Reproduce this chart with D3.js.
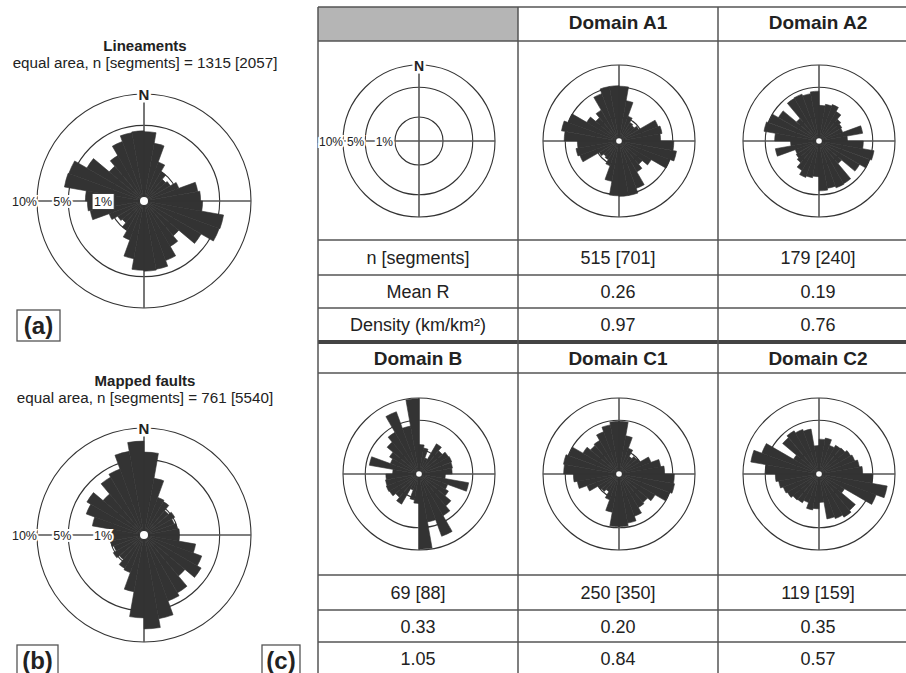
<!DOCTYPE html>
<html><head><meta charset="utf-8">
<script src="https://cdn.jsdelivr.net/npm/d3@7"></script>
<style>body{margin:0;background:#fff}svg{display:block;font-family:"Liberation Sans",Arial,sans-serif}</style>
</head><body><svg id="c" width="906" height="673"></svg>
<script>
// Bin start azimuths (degrees), 10° axial bins mirrored through 180°
const binStarts = d3.range(0, 180, 10);
// Percent per bin (equal-area roses)
const lineaments   = [4.2,3.0,1.5,1.0,0.7,0.8,1.2,2.6,2.8,3.0,5.7,5.6,3.8,1.8,2.4,3.5,4.2,4.3];
const mappedFaults = [6.0,2.9,1.4,1.3,0.9,1.1,0.9,1.0,1.1,1.1,2.4,3.3,3.8,2.5,3.9,4.3,6.3,7.7];
const domainA1 = [5.2,2.9,1.2,0.8,0.7,0.9,3.0,3.3,3.0,5.2,5.9,5.1,2.4,1.6,2.2,4.4,5.3,5.3];
const domainA2 = [2.2,2.4,2.6,2.0,1.4,1.2,1.1,3.4,1.4,3.4,5.4,5.0,3.8,1.5,4.2,4.3,4.0,4.3];
const domainB  = [1.5,1.2,0.5,2.1,1.6,2.0,2.1,2.0,1.9,1.2,4.4,1.6,2.0,3.0,4.0,7.6,4.1,9.8];
const domainC1 = [4.8,2.6,1.3,0.7,0.9,1.0,2.0,3.1,3.6,5.3,5.5,5.0,3.0,2.4,2.6,3.5,4.3,4.8];
const domainC2 = [2.1,2.3,1.6,1.9,2.0,2.3,2.5,2.9,3.3,5.0,8.3,6.4,1.5,3.9,4.3,3.9,3.6,1.4];
const ringPercents = [10, 5, 1];
const ringLabels = ["10%", "5%", "1%"];
// Table text
const rowLabels = ["n [segments]", "Mean R", "Density (km/km²)"];
const topDomains = ["Domain A1", "Domain A2"];
const topN = ["515 [701]", "179 [240]"];
const topMeanR = ["0.26", "0.19"];
const topDensity = ["0.97", "0.76"];
const bottomDomains = ["Domain B", "Domain C1", "Domain C2"];
const bottomN = ["69 [88]", "250 [350]", "119 [159]"];
const bottomMeanR = ["0.33", "0.20", "0.35"];
const bottomDensity = ["1.05", "0.84", "0.57"];

const svg = d3.select("#c");
const INK = "#333", LINE = "#555", TXT = "#222";
const rad = d => d * Math.PI / 180;

function rose(cx, cy, R, values, opt) {
  opt = opt || {};
  const g = svg.append("g").attr("transform", `translate(${cx},${cy})`);
  const r = d3.scaleSqrt().domain([0, 10]).range([0, R]);
  g.selectAll("circle.ring").data(ringPercents).join("circle")
    .attr("r", d => r(d)).attr("fill", "none").attr("stroke", INK).attr("stroke-width", 1.1);
  g.append("line").attr("x1", 0).attr("x2", 0).attr("y1", -R).attr("y2", R).attr("stroke", LINE).attr("stroke-width", 1.6);
  g.append("line").attr("x1", -R).attr("x2", R).attr("y1", 0).attr("y2", 0).attr("stroke", LINE).attr("stroke-width", 1.6);
  if (values) {
    const petals = [];
    values.forEach((v, i) => {
      petals.push({a: binStarts[i], v});
      petals.push({a: binStarts[i] + 180, v});
    });
    const arc = d3.arc().innerRadius(0).outerRadius(d => r(d.v))
      .startAngle(d => rad(d.a)).endAngle(d => rad(d.a + 10));
    g.selectAll("path.p").data(petals).join("path").attr("d", arc)
      .attr("fill", INK).attr("stroke", INK).attr("stroke-width", 0.6);
    g.append("circle").attr("r", opt.dot || 3).attr("fill", "#fff");
  }
  if (opt.north) {
    g.append("text").attr("x", 0).attr("y", -R + 5.5).attr("text-anchor", "middle")
      .attr("font-weight", "bold").attr("font-size", opt.nSize || 15).attr("fill", TXT)
      .attr("stroke", "#fff").attr("stroke-width", 5).attr("paint-order", "stroke").text("N");
  }
  if (opt.labels) {
    ringPercents.forEach((p, i) => {
      const x = -r(p) + (opt.labelShift ? opt.labelShift[i] : 0);
      const t = g.append("text").attr("x", x).attr("y", 4.5).attr("text-anchor", "end")
        .attr("font-size", opt.lSize || 12.5).attr("fill", TXT)
        .attr("stroke", "#fff").attr("stroke-width", 4).attr("paint-order", "stroke").text(ringLabels[i]);
      if (opt.box && p === 1) {
        const b = t.node().getBBox();
        g.insert("rect", "text").attr("x", b.x - 2).attr("y", b.y - 1).attr("width", b.width + 4).attr("height", b.height + 2)
          .attr("fill", "#fff").attr("stroke", INK).attr("stroke-width", 0.9);
        t.attr("stroke", "none");
      }
    });
  }
  return g;
}

// ---- left panels ----
function titleBlock(y, title, sub) {
  svg.append("text").attr("x", 145).attr("y", y).attr("text-anchor", "middle").attr("font-weight", "bold")
    .attr("font-size", 15).attr("fill", TXT).text(title);
  svg.append("text").attr("x", 145).attr("y", y + 16.5).attr("text-anchor", "middle")
    .attr("font-size", 15.2).attr("fill", TXT).text(sub);
}
titleBlock(51, "Lineaments", "equal area, n [segments] = 1315 [2057]");
titleBlock(386, "Mapped faults", "equal area, n [segments] = 761 [5540]");

rose(144, 201, 107, lineaments, {north: true, labels: true, box: true, dot: 4, labelShift: [0, 3, 2]});
rose(144, 535, 107, mappedFaults, {north: true, labels: true, dot: 4, labelShift: [0, 3, 2]});

function panelLabel(x, y, w, h, txt) {
  svg.append("rect").attr("x", x).attr("y", y).attr("width", w).attr("height", h)
    .attr("fill", "#fff").attr("stroke", LINE).attr("stroke-width", 1.3);
  svg.append("text").attr("x", x + w / 2).attr("y", y + 24).attr("text-anchor", "middle")
    .attr("font-weight", "bold").attr("font-size", 24).attr("fill", TXT).text(txt);
}
panelLabel(17, 310, 43, 31, "(a)");
panelLabel(17, 645, 41, 35, "(b)");
panelLabel(262, 645, 38, 35, "(c)");

// ---- table ----
const colX = [318, 518, 718, 918];
const colC = [418, 618, 818];
const T = svg.append("g");
T.append("rect").attr("x", 318).attr("y", 7).attr("width", 200).attr("height", 34).attr("fill", "#b5b5b5");
const hLines = [7, 41, 240, 275, 308, 373, 575, 610, 642];
hLines.forEach(y => T.append("line").attr("x1", 318).attr("x2", 906).attr("y1", y).attr("y2", y)
  .attr("stroke", LINE).attr("stroke-width", 1.5));
T.append("line").attr("x1", 318).attr("x2", 906).attr("y1", 342).attr("y2", 342).attr("stroke", "#444").attr("stroke-width", 4);
colX.slice(0, 3).forEach(x => T.append("line").attr("x1", x).attr("x2", x).attr("y1", 7).attr("y2", 673)
  .attr("stroke", LINE).attr("stroke-width", 1.5));

function cellText(x, y, txt, bold, size) {
  T.append("text").attr("x", x).attr("y", y).attr("text-anchor", "middle")
    .attr("font-weight", bold ? "bold" : "normal").attr("font-size", size || 18).attr("fill", TXT).text(txt);
}
topDomains.forEach((d, i) => cellText(colC[i + 1], 29, d, true, 19));
bottomDomains.forEach((d, i) => cellText(colC[i], 365, d, true, 19));
const rowY = [264, 298, 331];
rowLabels.forEach((t, i) => cellText(colC[0], rowY[i], t));
[topN, topMeanR, topDensity].forEach((arr, i) => arr.forEach((t, j) => cellText(colC[j + 1], rowY[i], t)));
const rowY2 = [599, 633, 665];
[bottomN, bottomMeanR, bottomDensity].forEach((arr, i) => arr.forEach((t, j) => cellText(colC[j], rowY2[i], t)));

// legend rose + domain roses
rose(419, 141, 76, null, {north: true, labels: true, lSize: 12, nSize: 14, labelShift: [0, -1, -2]});
rose(619, 141, 76, domainA1, {dot: 2.8});
rose(819, 141, 76, domainA2, {dot: 2.8});
rose(419, 474, 76, domainB, {dot: 2.8});
rose(619, 474, 76, domainC1, {dot: 2.8});
rose(819, 474, 76, domainC2, {dot: 2.8});
</script></body></html>
